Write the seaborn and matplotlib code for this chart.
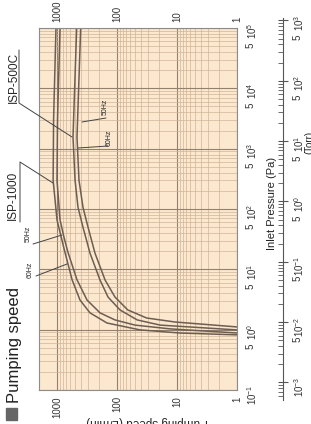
import numpy as np
import pandas as pd
import matplotlib
matplotlib.use("Agg")
import matplotlib.pyplot as plt
import matplotlib.ticker as mticker
from matplotlib.lines import Line2D
from matplotlib.patches import Rectangle
import seaborn as sns

# curves: inlet pressure (Pa) -> pumping speed (L/min)
p_1000_60 = [1e5, 3000, 300, 66, 34, 19, 6.7, 3.1, 1.9, 1.29, 0.99, 0.88, 0.82]
s_1000_60 = [1040, 1140, 1160, 1000, 850, 735, 560, 414, 282, 147, 41, 8.9, 1]
p_1000_50 = [1e5, 3000, 300, 66, 34, 19, 6.7, 3.1, 1.9, 1.45, 1.19, 1.03, 0.88]
s_1000_50 = [890, 980, 1000, 890, 765, 655, 464, 316, 192, 108, 50, 13, 1]
p_500_60 = [1e5, 1550, 300, 107, 50, 18.6, 6.65, 3.47, 2.12, 1.45, 1.19, 0.99]
s_500_60 = [470, 541, 500, 447, 369, 282, 192, 141, 89, 46, 19, 1]
p_500_50 = [1e5, 1550, 300, 107, 50, 18.6, 6.65, 3.47, 2.12, 1.56, 1.34, 1.11]
s_500_50 = [403, 464, 430, 369, 304, 233, 158, 108, 66, 32, 10.8, 1]

speed_ticks = [1000, 100, 10, 1]
pa_decades = [-1, 0, 1, 2, 3, 4, 5]
torr_decades = [-3, -2, -1, 0, 1, 2, 3]
PA_PER_TORR = 133.322

curves = [("ISP-1000 60Hz", p_1000_60, s_1000_60),
          ("ISP-1000 50Hz", p_1000_50, s_1000_50),
          ("ISP-500C 60Hz", p_500_60, s_500_60),
          ("ISP-500C 50Hz", p_500_50, s_500_50)]
rows = []
for name, p, s in curves:
    for i, (pp, ss) in enumerate(zip(p, s)):
        rows.append({"curve": name, "order": i, "pressure": pp, "speed": ss})
df = pd.DataFrame(rows)

sns.set_style("ticks")
plt.rcParams['font.family'] = ['Liberation Sans', 'DejaVu Sans']
plt.rcParams['mathtext.fontset'] = 'custom'
plt.rcParams['mathtext.rm'] = 'Liberation Sans'
plt.rcParams['mathtext.it'] = 'Liberation Sans:italic'
plt.rcParams['mathtext.bf'] = 'Liberation Sans:bold'

W, H = 311, 424
fig = plt.figure(figsize=(W / 100, H / 100), dpi=100)


def fx(x):
    return x / W


def fy(y):
    return 1 - y / H


# chart is drawn turned a quarter turn: speed runs across, pressure runs up
ax = fig.add_axes([fx(39), fy(390), (237 - 39) / W, (390 - 28) / H])
ax.set_facecolor('#fbe8cf')
ax.set_xscale('log')
ax.set_yscale('log')

for name, g in df.groupby("curve"):
    sns.lineplot(data=g.sort_values("order"), x="speed", y="pressure", sort=False,
                 estimator=None, color='#6e5d52', lw=1.1, ax=ax, legend=False)

ax.set_xlim(1995, 1)
ax.set_ylim(0.1, 1e5)
ax.set_xlabel("")
ax.set_ylabel("")

ax.xaxis.set_major_locator(mticker.FixedLocator(speed_ticks))
ax.xaxis.set_major_formatter(mticker.FixedFormatter([str(v) for v in speed_ticks]))
ax.xaxis.set_minor_locator(mticker.LogLocator(base=10, subs=np.arange(2, 10)))
ax.xaxis.set_minor_formatter(mticker.NullFormatter())

ax.yaxis.set_major_locator(mticker.FixedLocator([10.0 ** d for d in pa_decades]))
ax.yaxis.set_major_formatter(mticker.FixedFormatter(
    [r"$\mathregular{10^{%d}}$" % d for d in pa_decades]))
ax.yaxis.set_minor_locator(mticker.LogLocator(base=10, subs=np.arange(2, 10)))


def five_fmt(lo_v, hi_v):
    def f(v, pos):
        if v < lo_v or v > hi_v:
            return ""
        m = v / 10 ** np.floor(np.log10(v) + 1e-9)
        return "5" if abs(m - 5) < 0.01 else ""
    return f


ax.yaxis.set_minor_formatter(mticker.FuncFormatter(five_fmt(0.1, 1e5)))

ax.tick_params(axis='x', which='both', length=0, labelsize=7, labelrotation=90,
               pad=4.5, top=True, labeltop=True, colors='#333333')
ax.tick_params(axis='y', which='both', length=0, labelsize=7, labelrotation=90,
               pad=6, left=False, right=True, labelleft=False, labelright=True,
               colors='#333333')
ax.grid(which='major', color='#94806e', lw=0.8)
ax.grid(which='minor', color='#d0b597', lw=0.5)
for sp in ax.spines.values():
    sp.set_color('#8c8c8c')
    sp.set_linewidth(0.8)

# Torr ruler to the right
ppd = (390 - 28) / 6.0
lo = -1 - 10 / ppd - np.log10(PA_PER_TORR)
hi = 5 + 10 / ppd - np.log10(PA_PER_TORR)
ax2 = fig.add_axes([fx(283), fy(400), 0.0001, (400 - 18) / H])
ax2.set_yscale('log')
ax2.set_ylim(10 ** lo, 10 ** hi)
ax2.patch.set_visible(False)
for k in ['top', 'bottom', 'left']:
    ax2.spines[k].set_visible(False)
ax2.spines['right'].set_color('#555555')
ax2.spines['right'].set_linewidth(0.8)
ax2.xaxis.set_visible(False)
ax2.yaxis.tick_right()
ax2.yaxis.set_major_locator(mticker.FixedLocator([10.0 ** d for d in torr_decades]))
ax2.yaxis.set_major_formatter(mticker.FixedFormatter(
    [r"$\mathregular{10^{%d}}$" % d for d in torr_decades]))
ax2.yaxis.set_minor_locator(mticker.LogLocator(base=10, subs=np.arange(2, 10)))
ax2.yaxis.set_minor_formatter(mticker.FuncFormatter(five_fmt(1e-3, 1e3)))
ax2.tick_params(axis='y', which='major', direction='inout', length=7, width=0.8,
                color='#555555', labelsize=7, labelrotation=90, pad=3, labelcolor='#333333')
ax2.tick_params(axis='y', which='minor', direction='in', length=3.5, width=0.6,
                color='#555555', labelsize=7, labelrotation=90, pad=6.5, labelcolor='#333333')

# texts
fig.text(fx(15), fy(403), "Pumping speed", rotation=90, ha='center', va='bottom',
         fontsize=12, color='#222222')
fig.patches.append(Rectangle((fx(6), fy(420)), fx(11), 12 / H, color='#666666',
                             transform=fig.transFigure, figure=fig))
fig.text(fx(272), fy(203), "Inlet Pressure (Pa)", rotation=90, ha='center', va='center',
         fontsize=8, color='#222222')
fig.text(fx(309.5), fy(142), "(Torr)", rotation=90, ha='center', va='center',
         fontsize=7, color='#222222')
fig.text(fx(147), fy(416), "Pumping speed (L/min)", rotation=180, ha='center', va='top',
         fontsize=8.5, color='#222222')

fig.text(fx(14), fy(77), "ISP-500C", rotation=90, ha='center', va='center', fontsize=8.5)
fig.text(fx(13), fy(195), "ISP-1000", rotation=90, ha='center', va='center', fontsize=8.5)
fig.text(fx(105), fy(107), "50Hz", rotation=90, ha='center', va='center', fontsize=5)
fig.text(fx(109), fy(138), "60Hz", rotation=90, ha='center', va='center', fontsize=5)
fig.text(fx(28), fy(234), "50Hz", rotation=90, ha='center', va='center', fontsize=5)
fig.text(fx(30), fy(270), "60Hz", rotation=90, ha='center', va='center', fontsize=5)

leaders = [
    [(19, 50), (19, 103), (72, 137)],
    [(20, 222), (20, 162), (53, 183)],
    [(106, 118), (82, 122)],
    [(108, 146), (78, 148)],
    [(33, 244), (62, 235)],
    [(36, 276), (67, 264)],
]
for pts in leaders:
    xs = [fx(p[0]) for p in pts]
    ys = [fy(p[1]) for p in pts]
    fig.add_artist(Line2D(xs, ys, color='#444444', lw=0.7, transform=fig.transFigure))

fig.savefig("out.png", dpi=100)
